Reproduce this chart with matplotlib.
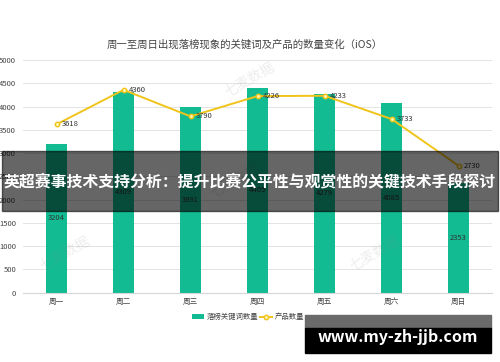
import matplotlib
matplotlib.use("Agg")
import matplotlib.pyplot as plt
from matplotlib.patches import Rectangle
import numpy as np

plt.rcParams['font.family'] = ['Noto Sans CJK SC', 'DejaVu Sans']

days = ["周一", "周二", "周三", "周四", "周五", "周六", "周日"]
keyword_counts = [3204, 4309, 3991, 4405, 4279, 4085, 2353]
product_counts = [3618, 4360, 3790, 4226, 4233, 3733, 2730]
yticks = [0, 500, 1000, 1500, 2000, 2500, 3000, 3500, 4000, 4500, 5000]

teal = "#12bb92"
yellow = "#f0c419"

fig = plt.figure(figsize=(5, 3.62), dpi=100)
ax = fig.add_axes([0.046, 0.1915, 0.938, 0.6425])
x = np.arange(len(days))

bars = ax.bar(x, keyword_counts, width=0.31, color=teal, zorder=2, label="落榜关键词数量")
for xi, v in zip(x, keyword_counts):
    ax.text(xi, v / 2, str(v), ha="center", va="center", fontsize=5.5, color="#333333", zorder=3)

line, = ax.plot(x, product_counts, color=yellow, lw=1.4, marker="o", ms=3.2,
                mfc="#fff3b0", mec=yellow, mew=1, zorder=4, label="产品数量")
for xi, v in zip(x, product_counts):
    ax.annotate(str(v), (xi, v), xytext=(4, 0), textcoords="offset points",
                ha="left", va="center", fontsize=5.5, color="#333333", zorder=5)

ax.set_xlim(-0.5, len(days) - 0.5)
ax.set_ylim(0, 5000)
ax.set_yticks(yticks)
ax.set_xticks(x)
ax.set_xticklabels(days)
ax.tick_params(axis="both", length=0, labelsize=5.5, labelcolor="#444444")
ax.tick_params(axis="y", pad=5)
ax.tick_params(axis="x", pad=4)
ax.grid(axis="y", color="#e3e3e3", lw=0.7, zorder=0)
for s in ["top", "right", "left"]:
    ax.spines[s].set_visible(False)
ax.spines["bottom"].set_color("#d6d6d6")

fig.text(0.49, 0.878, "周一至周日出现落榜现象的关键词及产品的数量变化（iOS）",
         ha="center", va="center", fontsize=7.5, color="#444444")

fig.legend([bars, line], ["落榜关键词数量", "产品数量"], loc="center",
           bbox_to_anchor=(0.496, 0.124), ncol=2, frameon=False,
           fontsize=5.3, handlelength=1.7, handleheight=0.7, columnspacing=0.2,
           handletextpad=0.3, labelcolor="#444444", borderpad=0.2)

# faint watermarks
for wx, wy in [(0.5, 0.78), (0.13, 0.3), (0.47, 0.5), (0.75, 0.3)]:
    fig.text(wx, wy, "七麦数据", rotation=30, fontsize=10, color="#888888",
             alpha=0.15, ha="center", va="center")

# overlay banner
fig.patches.append(Rectangle((0.004, 1 - 210.7 / 362), 0.992, 59.7 / 362,
                             transform=fig.transFigure, color="black", alpha=0.6, zorder=10))
fig.text(0.5, 1 - 181 / 362, "英超赛事技术支持分析：提升比赛公平性与观赏性的关键技术手段探讨",
         ha="center", va="center", fontsize=11.4, fontweight="bold", color="white", zorder=11)

# site watermark box
fig.patches.append(Rectangle((305 / 500, 1 - 328 / 362), 186 / 500, 13 / 362,
                             transform=fig.transFigure, color="#6a6a6a", zorder=10))
fig.patches.append(Rectangle((305 / 500, 1 - 353 / 362), 186 / 500, 25 / 362,
                             transform=fig.transFigure, color="black", zorder=10))
fig.text(398 / 500, 1 - 337 / 362, "www.my-zh-jjb.com", ha="center", va="center",
         fontsize=11.5, fontweight="bold", color="white", zorder=11)

fig.savefig("out.png", dpi=100)
